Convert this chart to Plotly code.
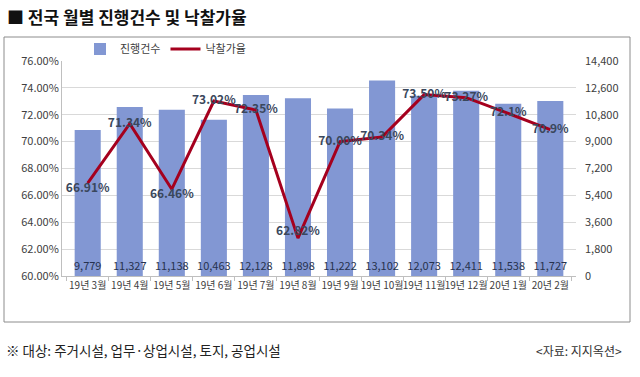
import plotly.graph_objects as go

months = ["19년 3월", "19년 4월", "19년 5월", "19년 6월", "19년 7월", "19년 8월",
          "19년 9월", "19년 10월", "19년 11월", "19년 12월", "20년 1월", "20년 2월"]
cases = [9779, 11327, 11138, 10463, 12128, 11898, 11222, 13102, 12073, 12411, 11538, 11727]
rates = [66.91, 71.34, 66.46, 73.02, 72.35, 62.82, 70.00, 70.34, 73.50, 73.27, 72.1, 70.9]
rate_labels = ["66.91%", "71.34%", "66.46%", "73.02%", "72.35%", "62.82%",
               "70.00%", "70.34%", "73.50%", "73.27%", "72.1%", "70.9%"]
left_ticks = [60, 62, 64, 66, 68, 70, 72, 74, 76]
left_tick_labels = ["60.00%", "62.00%", "64.00%", "66.00%", "68.00%", "70.00%",
                    "72.00%", "74.00%", "76.00%"]
right_ticks = [0, 1800, 3600, 5400, 7200, 9000, 10800, 12600, 14400]

FONT = "Noto Sans CJK KR"
W, H = 640, 377
ML, MR, MT, MB = 62, 64, 61, 101
PW, PH = W - ML - MR, H - MT - MB


def px(x):
    return (x - ML) / PW


def py(y):
    return (H - MB - y) / PH


fig = go.Figure()
fig.add_trace(go.Bar(
    x=months, y=cases, name="진행건수", yaxis="y",
    marker=dict(color="#8297d3", line=dict(width=0)),
    width=0.62,
    text=[f"{v:,}" for v in cases], textposition="inside", insidetextanchor="start",
    constraintext="none", cliponaxis=False,
    textfont=dict(color="#26324e", size=11, family=FONT), textangle=0,
))
fig.add_trace(go.Scatter(
    x=months, y=rates, name="낙찰가율", mode="lines+text", yaxis="y2",
    line=dict(color="#a5001e", width=3),
    text=rate_labels,
    textposition=["bottom center", "middle center", "bottom center", "middle center",
                   "middle center", "top center", "middle center", "middle center",
                   "middle center", "middle center", "middle center", "middle center"],
    textfont=dict(color="#3a475c", size=12, family=FONT, weight="bold"),
    cliponaxis=False,
))

fig.update_layout(
    width=W, height=H,
    margin=dict(l=ML, r=MR, t=MT, b=MB, autoexpand=False),
    paper_bgcolor="white", plot_bgcolor="white",
    font=dict(family=FONT, color="#404040", size=11),
    showlegend=True,
    legend=dict(orientation="h", x=px(80), y=py(49), xanchor="left", yanchor="middle",
                font=dict(size=11, color="#404040"), bgcolor="rgba(0,0,0,0)",
                traceorder="normal", itemwidth=30),
    xaxis=dict(type="category", showgrid=False, showline=True, linecolor="#bfbfbf",
               ticks="outside", tickson="boundaries", ticklen=4, tickcolor="#bfbfbf",
               tickangle=0, automargin=False, tickfont=dict(size=10, color="#404040")),
    yaxis=dict(range=[0, 14400], tickvals=right_ticks, tickformat=",d",
               side="right", showgrid=True, gridcolor="#d9d9d9", gridwidth=1,
               zeroline=False, showline=False, automargin=False,
               tickfont=dict(size=11, color="#404040"), ticklabelstandoff=8),
    yaxis2=dict(range=[60, 76], tickvals=left_ticks, ticktext=left_tick_labels,
                overlaying="y", side="left", showgrid=False, showline=True, automargin=False,
                linecolor="#bfbfbf", zeroline=False, tickfont=dict(size=11, color="#404040")),
)

shapes = [
    dict(type="rect", xref="paper", yref="paper", x0=px(4), x1=px(630), y0=py(322), y1=py(37),
         line=dict(color="#8c8c8c", width=1), fillcolor="rgba(0,0,0,0)", layer="below"),
]
fig.update_layout(shapes=shapes)

annotations = [
    dict(text="<b>■ 전국 월별 진행건수 및 낙찰가율</b>", xref="paper", yref="paper",
         x=px(5), y=py(16), xanchor="left", yanchor="middle", showarrow=False,
         font=dict(size=17, color="#111111", family=FONT)),
    dict(text="※ 대상: 주거시설, 업무·상업시설, 토지, 공업시설", xref="paper", yref="paper",
         x=px(4), y=py(350), xanchor="left", yanchor="middle", showarrow=False,
         font=dict(size=13.5, color="#222222", family=FONT)),
    dict(text="<자료: 지지옥션>", xref="paper", yref="paper",
         x=px(624), y=py(350), xanchor="right", yanchor="middle", showarrow=False,
         font=dict(size=12, color="#333333", family=FONT)),
]
fig.update_layout(annotations=annotations)

fig.write_html("out.html", config={"displayModeBar": False},
               post_script="document.body.style.margin='0';document.body.style.padding='0';")
